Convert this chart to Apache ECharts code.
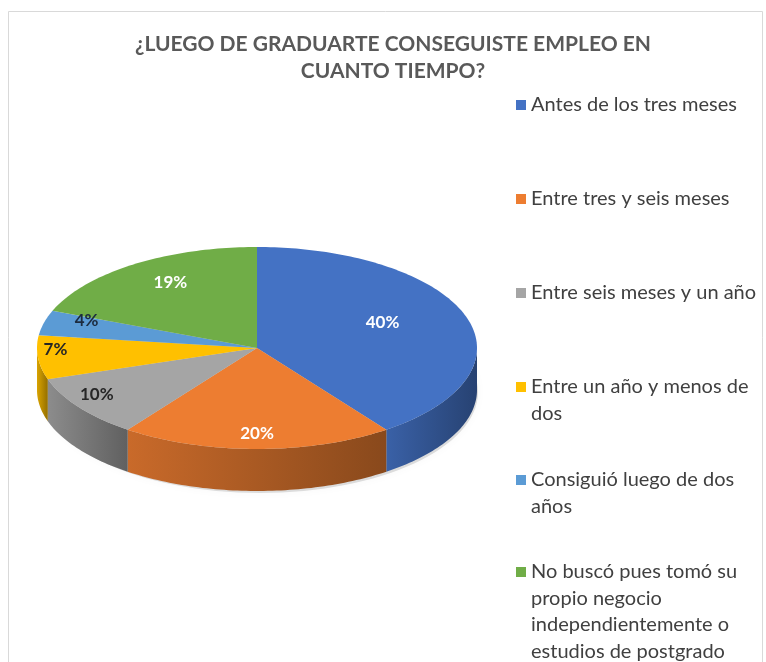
<!DOCTYPE html>
<html>
<head>
<meta charset="utf-8">
<script src="https://cdn.jsdelivr.net/npm/echarts@6/dist/echarts.min.js"></script>
<style>
  html, body { margin: 0; padding: 0; background: #fff; }
  #main { width: 766px; height: 662px; }
</style>
</head>
<body>
<div id="main"></div>
<script>
// data
var categories = [
  'Antes de los tres meses',
  'Entre tres y seis meses',
  'Entre seis meses y un año',
  'Entre un año y menos de dos',
  'Consiguió luego de dos años',
  'No buscó pues tomó su propio negocio independientemente o estudios de postgrado'
];
var values = [40, 20, 10, 7, 4, 19];
var legendText = [
  'Antes de los tres meses',
  'Entre tres y seis meses',
  'Entre seis meses y un año',
  'Entre un año y menos de\ndos',
  'Consiguió luego de dos\naños',
  'No buscó pues tomó su\npropio negocio\nindependientemente o\nestudios de postgrado'
];

// styles
var colors = ['#4472C4', '#ED7D31', '#A5A5A5', '#FFC000', '#5B9BD5', '#70AD47'];
var labelColors = ['#ffffff', '#ffffff', '#262626', '#262626', '#1c2b3f', '#ffffff'];
var labelRadius = [0.6, 0.92, 0.9, 0.92, 0.8, 0.7];
var FONT = 'Lato';

var chartDom = document.getElementById('main');
var myChart = echarts.init(chartDom);
var option;

// fake 3d pie geometry (ellipse seen from above)
var CX = 257, CY = 348, RX = 220, RY = 101, DEPTH = 42, LABEL_CY = 341;
var total = values.reduce(function (a, b) { return a + b; }, 0);
var startAngles = [];
var acc = 0;
for (var i = 0; i < values.length; i++) {
  startAngles.push(acc / total * Math.PI * 2);
  acc += values[i];
}

function arc(a0, a1, dy) {
  var pts = [];
  var steps = Math.max(2, Math.ceil((a1 - a0) / 0.02));
  for (var k = 0; k <= steps; k++) {
    var a = a0 + (a1 - a0) * k / steps;
    pts.push([CX + RX * Math.sin(a), CY - RY * Math.cos(a) + dy]);
  }
  return pts;
}

function shade(hex, k) {
  var n = parseInt(hex.slice(1), 16);
  var r = Math.round(((n >> 16) & 255) * k);
  var g = Math.round(((n >> 8) & 255) * k);
  var b = Math.round((n & 255) * k);
  return 'rgb(' + r + ',' + g + ',' + b + ')';
}

function renderSlice(params, api) {
  var idx = params.seriesIndex;
  var v = api.value(0);
  var a0 = startAngles[idx];
  var a1 = a0 + v / total * Math.PI * 2;
  var children = [];
  if (idx === 0) {
    // soft shadow under the whole pie
    children.push({
      type: 'ellipse',
      shape: { cx: CX + 3, cy: CY + DEPTH + 2, rx: RX - 2, ry: RY },
      style: {
        fill: 'rgba(0,0,0,0.12)',
        shadowBlur: 10,
        shadowColor: 'rgba(0,0,0,0.25)'
      }
    });
  }
  // side wall, only the front half shows
  var s0 = Math.max(a0, Math.PI / 2);
  var s1 = Math.min(a1, Math.PI * 1.5);
  if (s1 > s0) {
    var top = arc(s0, s1, 0);
    var bottom = arc(s0, s1, DEPTH).reverse();
    children.push({
      type: 'polygon',
      shape: { points: top.concat(bottom) },
      style: {
        fill: new echarts.graphic.LinearGradient(0, 0, 1, 0, [
          { offset: 0, color: shade(colors[idx], 0.85) },
          { offset: 1, color: shade(colors[idx], 0.58) }
        ])
      }
    });
  }
  children.push({
    type: 'polygon',
    shape: { points: [[CX, CY]].concat(arc(a0, a1, 0)) },
    style: { fill: colors[idx] }
  });
  var mid = (a0 + a1) / 2;
  var f = labelRadius[idx];
  children.push({
    type: 'text',
    z2: 100,
    x: CX + RX * f * Math.sin(mid),
    y: LABEL_CY - RY * f * Math.cos(mid),
    style: {
      text: Math.round(v / total * 100) + '%',
      align: 'center',
      verticalAlign: 'middle',
      fill: labelColors[idx],
      font: 'bold 17px ' + FONT
    }
  });
  return { type: 'group', children: children };
}

var series = categories.map(function (name, i) {
  return {
    type: 'custom',
    name: name,
    coordinateSystem: 'none',
    data: [values[i]],
    itemStyle: { color: colors[i] },
    renderItem: renderSlice,
    silent: true,
    animation: false
  };
});

// one legend per entry so spacing stays even like excel;
// blank lines in front keep the marker on the first text line
var LH = 26.5;
var legendCenters = [105, 199, 293, 387, 480, 572];
var legends = categories.map(function (name, i) {
  var n = legendText[i].split('\n').length;
  var pad = new Array(n).join('\n');
  return {
    orient: 'vertical',
    left: 516,
    top: legendCenters[i] - (2 * n - 1) * LH / 2,
    padding: 0,
    itemWidth: 10,
    itemHeight: 10,
    icon: 'rect',
    selectedMode: false,
    data: [name],
    formatter: function () { return pad + legendText[i]; },
    textStyle: { fontFamily: FONT, fontSize: 20, color: '#404040', lineHeight: LH }
  };
});

option = {
  backgroundColor: '#ffffff',
  title: {
    text: '¿LUEGO DE GRADUARTE CONSEGUISTE EMPLEO EN\nCUANTO TIEMPO?',
    left: 393,
    top: 31,
    padding: 0,
    textAlign: 'center',
    textStyle: {
      fontFamily: FONT,
      fontSize: 21,
      fontWeight: 'bold',
      color: '#595959',
      lineHeight: 27
    }
  },
  legend: legends,
  graphic: [{
    type: 'rect',
    silent: true,
    z: -1,
    shape: { x: 8.5, y: 11.5, width: 754, height: 700 },
    style: { fill: 'none', stroke: '#d9d9d9', lineWidth: 1 }
  }],
  series: series
};

myChart.setOption(option);
</script>
</body>
</html>
